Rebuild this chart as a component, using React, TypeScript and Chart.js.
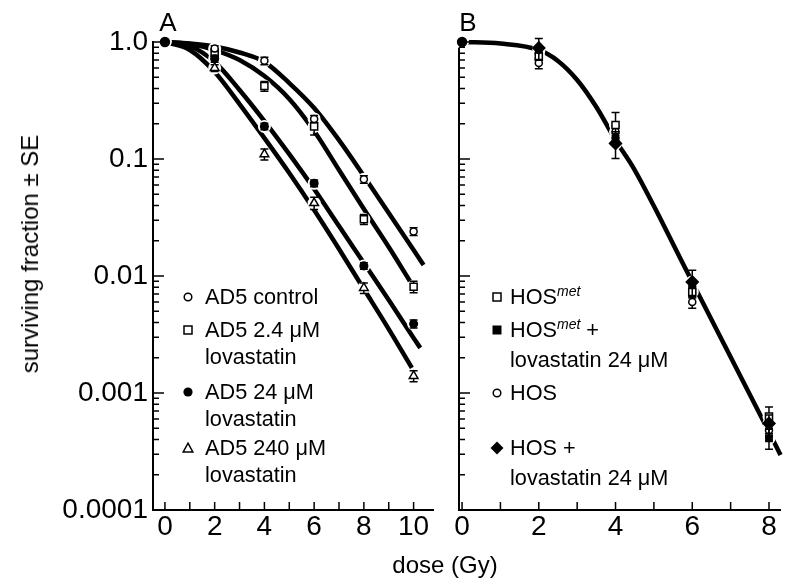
import React, { useEffect, useRef } from 'react';
import { Chart, registerables } from 'chart.js';

Chart.register(...registerables);

const FONT = '"Liberation Sans", Arial, Helvetica, sans-serif';

// ---------------- Panel A : AD5 cells ----------------
const dosesA = [0, 2, 4, 6, 8, 10];
const ad5Control = [1.0, 0.88, 0.69, 0.22, 0.067, 0.024];
const ad5ControlSE = [0, 0.05, 0.05, 0.015, 0.005, 0.0018];
const ad5Lova2_4 = [1.0, 0.81, 0.42, 0.19, 0.0305, 0.0081];
const ad5Lova2_4SE = [0, 0.06, 0.04, 0.03, 0.003, 0.0009];
const ad5Lova24 = [1.0, 0.72, 0.19, 0.062, 0.0122, 0.0039];
const ad5Lova24SE = [0, 0.05, 0.012, 0.004, 0.0008, 0.0003];
const ad5Lova240 = [1.0, 0.6, 0.11, 0.042, 0.0079, 0.0014];
const ad5Lova240SE = [0, 0.04, 0.012, 0.005, 0.0008, 0.00015];

// fitted curves
const fitControlDose = [0, 1, 2, 3, 4, 5, 6, 7, 8, 9, 10, 10.4];
const fitControl = [1.0, 0.971, 0.915, 0.813, 0.675, 0.446, 0.273, 0.145, 0.0716, 0.0345, 0.0167, 0.0124];
const fitLova2_4Dose = [0, 1, 2, 3, 4, 5, 6, 7, 8, 9, 9.85];
const fitLova2_4 = [1.0, 0.961, 0.854, 0.702, 0.512, 0.326, 0.1735, 0.0805, 0.0374, 0.0177, 0.00907];
const fitLova24Dose = [0, 1, 2, 3, 4, 5, 6, 7, 8, 9, 10, 10.27];
const fitLova24 = [1.0, 0.924, 0.675, 0.389, 0.211, 0.11, 0.0554, 0.0267, 0.0129, 0.00623, 0.00295, 0.00243];
const fitLova240Dose = [0, 1, 2, 3, 4, 5, 6, 7, 8, 9, 9.93];
const fitLova240 = [1.0, 0.854, 0.554, 0.295, 0.151, 0.0759, 0.0366, 0.017, 0.00774, 0.00352, 0.00164];

// ---------------- Panel B : HOS cells ----------------
const dosesB = [0, 2, 4, 6, 8];
const hosMet = [1.0, 0.75, 0.195, 0.0073, 0.00063];
const hosMetSE = [0, 0.05, 0.055, 0.0008, 0.00013];
const hosMetLova = [1.0, 0.84, 0.15, 0.008, 0.00041];
const hosMetLovaSE = [0, 0.06, 0.015, 0.0008, 0.00008];
const hos = [1.0, 0.66, 0.171, 0.006, 0.00048];
const hosSE = [0, 0.07, 0.02, 0.0007, 0.00005];
const hosLova = [1.0, 0.89, 0.136, 0.0089, 0.00055];
const hosLovaSE = [0, 0.18, 0.035, 0.0023, 0.0001];

const fitHosDose = [0, 1, 2, 2.5, 3, 3.5, 4, 4.5, 5, 5.5, 6, 7, 8, 8.3];
const fitHos = [1.0, 0.971, 0.855, 0.688, 0.473, 0.278, 0.145, 0.0805, 0.0396, 0.01877, 0.00889, 0.00203, 0.000464, 0.000295];

// ---------------- ticks ----------------
const xLabelTicksA = [0, 2, 4, 6, 8, 10];
const xMarkTicksA = [0, 1, 2, 3, 4, 5, 6, 7, 8, 9, 10];
const xLabelTicksB = [0, 2, 4, 6, 8];
const xMarkTicksB = [0, 1, 2, 3, 4, 5, 6, 7, 8];
const yDecades = [0.0001, 0.001, 0.01, 0.1, 1];
const yDecadeLabels = ['0.0001', '0.001', '0.01', '0.1', '1.0'];
const yMinorSteps = [2, 3, 4, 5, 6, 7, 8, 9];

// ---------------- text ----------------
const legendATexts = [
  ['AD5 control'],
  ['AD5 2.4 \u03bcM', 'lovastatin'],
  ['AD5 24 \u03bcM', 'lovastatin'],
  ['AD5 240 \u03bcM', 'lovastatin'],
];
const yTitle = 'surviving fraction \u00b1 SE';
const xTitle = 'dose (Gy)';

const pts = (xs: number[], ys: number[]) => xs.map((x, i) => ({ x, y: ys[i] }));

const inTicksPlugin = {
  id: 'inTicks',
  afterDraw(chart: any, _args: any, opts: any) {
    const { ctx, chartArea } = chart;
    const xs = chart.scales.x;
    const ys = chart.scales.y;
    ctx.save();
    ctx.strokeStyle = '#000';
    ctx.lineWidth = 1.5;
    ctx.beginPath();
    for (const v of opts.xTicks) {
      const px = xs.getPixelForValue(v);
      ctx.moveTo(px, chartArea.bottom);
      ctx.lineTo(px, chartArea.bottom - 8);
    }
    for (const d of yDecades) {
      const py = ys.getPixelForValue(d);
      ctx.moveTo(chartArea.left, py);
      ctx.lineTo(chartArea.left + 11, py);
      if (d >= 1) continue;
      for (const m of yMinorSteps) {
        const q = ys.getPixelForValue(d * m);
        ctx.moveTo(chartArea.left, q);
        ctx.lineTo(chartArea.left + 6, q);
      }
    }
    ctx.stroke();
    ctx.restore();
  },
};

const errPlugin = {
  id: 'errBars',
  beforeDatasetDraw(chart: any, args: any) {
    const ds = chart.data.datasets[args.index];
    if (!ds.errors) return;
    const { ctx } = chart;
    const xs = chart.scales.x;
    const ys = chart.scales.y;
    ctx.save();
    ctx.strokeStyle = '#000';
    ctx.lineWidth = 1.5;
    ctx.beginPath();
    ds.data.forEach((p: any, i: number) => {
      const e = ds.errors[i];
      if (!e) return;
      const px = xs.getPixelForValue(p.x);
      const t = ys.getPixelForValue(p.y + e);
      const b = ys.getPixelForValue(Math.max(p.y - e, 1e-6));
      ctx.moveTo(px, t);
      ctx.lineTo(px, b);
      ctx.moveTo(px - 4, t);
      ctx.lineTo(px + 4, t);
      ctx.moveTo(px - 4, b);
      ctx.lineTo(px + 4, b);
    });
    ctx.stroke();
    ctx.restore();
  },
};

const curveDs = (xs: number[], ys: number[]) => ({
  data: pts(xs, ys),
  showLine: true,
  borderColor: '#000',
  borderWidth: 4.5,
  pointRadius: 0,
  cubicInterpolationMode: 'monotone',
  borderCapStyle: 'butt',
  order: 3,
  clip: false,
});

const haloDs = (data: any[]) => ({
  data,
  showLine: false,
  pointRadius: 6.5,
  pointBackgroundColor: '#fff',
  pointBorderWidth: 0,
  pointBorderColor: '#fff',
  order: 2,
  clip: false,
});

const markerDs = (xs: number[], ys: number[], errs: number[], shape: any, r: any, fill: string, order = 1) => ({
  data: pts(xs, ys),
  errors: errs,
  showLine: false,
  pointStyle: shape,
  pointRadius: r,
  pointBackgroundColor: fill,
  pointBorderColor: '#000',
  pointBorderWidth: 1.5,
  order,
  clip: false,
});

const hideOrigin = (r: number) => (c: any) => (c.dataIndex === 0 ? 0 : r);

const tickFont = { family: FONT, size: 28 };

function xScale(min: number, max: number, labels: number[]) {
  return {
    type: 'linear',
    min,
    max,
    afterBuildTicks: (s: any) => {
      s.ticks = labels.map((v) => ({ value: v }));
    },
    afterFit: (s: any) => {
      s.height = 78;
    },
    ticks: { font: tickFont, color: '#000', padding: 0, autoSkip: false, maxRotation: 0, callback: (v: any) => String(v) },
    grid: { display: false, drawTicks: false },
    border: { display: true, color: '#000', width: 2 },
  };
}

function yScale(width: number, showLabels: boolean) {
  return {
    type: 'logarithmic',
    min: 0.0001,
    max: 1,
    afterBuildTicks: (s: any) => {
      s.ticks = yDecades.map((v) => ({ value: v, major: true }));
    },
    afterFit: (s: any) => {
      s.width = width;
    },
    ticks: {
      display: showLabels,
      font: tickFont,
      color: '#000',
      padding: 5,
      autoSkip: false,
      callback: (_v: any, i: number) => yDecadeLabels[i],
    },
    grid: { display: false, drawTicks: false },
    border: { display: true, color: '#000', width: 2 },
  };
}

function configA(): any {
  const haloData = [
    ...pts(dosesA, ad5Control),
    ...pts(dosesA, ad5Lova2_4),
    ...pts(dosesA, ad5Lova24),
    ...pts(dosesA, ad5Lova240),
  ];
  return {
    type: 'scatter',
    data: {
      datasets: [
        curveDs(fitControlDose, fitControl),
        curveDs(fitLova2_4Dose, fitLova2_4),
        curveDs(fitLova24Dose, fitLova24),
        curveDs(fitLova240Dose, fitLova240),
        haloDs(haloData),
        markerDs(dosesA, ad5Control, ad5ControlSE, 'circle', hideOrigin(3.5), '#fff'),
        markerDs(dosesA, ad5Lova2_4, ad5Lova2_4SE, 'rect', hideOrigin(5), '#fff'),
        markerDs(dosesA, ad5Lova240, ad5Lova240SE, 'triangle', hideOrigin(5), '#fff'),
        markerDs(dosesA, ad5Lova24, ad5Lova24SE, 'circle', (c: any) => (c.dataIndex === 0 ? 4.5 : 3.8), '#000', 0),
      ],
    },
    plugins: [inTicksPlugin, errPlugin],
    options: {
      responsive: false,
      animation: false,
      events: [],
      layout: { padding: { left: 0, right: 5, top: 42, bottom: 0 } },
      plugins: { legend: { display: false }, tooltip: { enabled: false }, inTicks: { xTicks: xMarkTicksA } },
      scales: { x: xScale(-0.48, 10.8, xLabelTicksA), y: yScale(153, true) },
    },
  };
}

function configB(): any {
  const haloData = [...pts(dosesB, hosMet), ...pts(dosesB, hosMetLova), ...pts(dosesB, hos), ...pts(dosesB, hosLova)];
  return {
    type: 'scatter',
    data: {
      datasets: [
        curveDs(fitHosDose, fitHos),
        haloDs(haloData),
        markerDs(dosesB, hosMet, hosMetSE, 'rect', hideOrigin(5), '#fff'),
        markerDs(dosesB, hosMetLova, hosMetLovaSE, 'rect', hideOrigin(4.5), '#000'),
        markerDs(dosesB, hos, hosSE, 'circle', hideOrigin(3.5), '#fff'),
        markerDs(
          dosesB,
          hosLova,
          hosLovaSE,
          (c: any) => (c.dataIndex === 0 ? 'circle' : 'rectRot'),
          (c: any) => (c.dataIndex === 0 ? 4.5 : 6),
          '#000',
          0
        ),
      ],
    },
    plugins: [inTicksPlugin, errPlugin],
    options: {
      responsive: false,
      animation: false,
      events: [],
      layout: { padding: { left: 0, right: 0, top: 42, bottom: 0 } },
      plugins: { legend: { display: false }, tooltip: { enabled: false }, inTicks: { xTicks: xMarkTicksB } },
      scales: { x: xScale(-0.08, 8.3, xLabelTicksB), y: yScale(19, false) },
    },
  };
}

function Sym({ kind, x, y }: { kind: string; x: number; y: number }) {
  let shape: any = null;
  if (kind === 'circle') shape = <circle cx={7} cy={7} r={3.8} fill="#fff" stroke="#000" strokeWidth={1.5} />;
  else if (kind === 'dot') shape = <circle cx={7} cy={7} r={4.6} fill="#000" />;
  else if (kind === 'square') shape = <rect x={3} y={3} width={8} height={8} fill="#fff" stroke="#000" strokeWidth={1.5} />;
  else if (kind === 'fsquare') shape = <rect x={2.5} y={2.5} width={9} height={9} fill="#000" />;
  else if (kind === 'triangle') shape = <polygon points="7,2.2 11.8,11 2.2,11" fill="#fff" stroke="#000" strokeWidth={1.5} />;
  else if (kind === 'diamond') shape = <polygon points="7,0.5 13.5,7 7,13.5 0.5,7" fill="#000" />;
  return (
    <svg width={14} height={14} style={{ position: 'absolute', left: x - 7, top: y - 7 }}>
      {shape}
    </svg>
  );
}

const LEG = 21.7;

const textStyle = (x: number, y: number, size: number): React.CSSProperties => ({
  position: 'absolute',
  left: x,
  top: y,
  transform: 'translateY(-50%)',
  fontFamily: FONT,
  fontSize: size,
  lineHeight: 1,
  whiteSpace: 'nowrap',
  color: '#000',
});

const Met = () => (
  <span style={{ fontSize: 14, fontStyle: 'italic', position: 'relative', top: -8 }}>met</span>
);

export default function App() {
  const refA = useRef<HTMLCanvasElement>(null);
  const refB = useRef<HTMLCanvasElement>(null);

  useEffect(() => {
    const a = new Chart(refA.current as HTMLCanvasElement, configA());
    const b = new Chart(refB.current as HTMLCanvasElement, configB());
    return () => {
      a.destroy();
      b.destroy();
    };
  }, []);

  const legA = [
    { sym: 'circle', y: 297 },
    { sym: 'square', y: 330 },
    { sym: 'dot', y: 392 },
    { sym: 'triangle', y: 448 },
  ];

  return (
    <div style={{ position: 'fixed', left: 0, top: 0, width: 788, height: 588, background: '#fff', overflow: 'hidden' }}>
      <canvas ref={refA} width={440} height={588} style={{ position: 'absolute', left: 0, top: 0, width: 440, height: 588 }} />
      <canvas ref={refB} width={348} height={588} style={{ position: 'absolute', left: 440, top: 0, width: 348, height: 588 }} />

      <div style={{ ...textStyle(168, 22, 26), transform: 'translate(-50%,-50%)' }}>A</div>
      <div style={{ ...textStyle(468, 22, 26), transform: 'translate(-50%,-50%)' }}>B</div>

      <div style={{ ...textStyle(30, 254, 24), transform: 'translate(-50%,-50%) rotate(-90deg)' }}>{yTitle}</div>
      <div style={{ ...textStyle(445, 565, 24), transform: 'translate(-50%,-50%)' }}>{xTitle}</div>

      {legA.map((l, i) => (
        <React.Fragment key={'a' + i}>
          <Sym kind={l.sym} x={188} y={l.y} />
          {legendATexts[i].map((t, j) => (
            <div key={j} style={textStyle(205, l.y + j * 27, LEG)}>
              {t}
            </div>
          ))}
        </React.Fragment>
      ))}

      <Sym kind="square" x={497} y={297} />
      <div style={textStyle(510, 297, LEG)}>
        HOS<Met />
      </div>
      <Sym kind="fsquare" x={497} y={330} />
      <div style={textStyle(510, 330, LEG)}>
        HOS<Met /> +
      </div>
      <div style={textStyle(510, 360, LEG)}>lovastatin 24 {'\u03bc'}M</div>
      <Sym kind="circle" x={497} y={393} />
      <div style={textStyle(510, 393, LEG)}>HOS</div>
      <Sym kind="diamond" x={497} y={448} />
      <div style={textStyle(510, 448, LEG)}>HOS +</div>
      <div style={textStyle(510, 478, LEG)}>lovastatin 24 {'\u03bc'}M</div>
    </div>
  );
}
